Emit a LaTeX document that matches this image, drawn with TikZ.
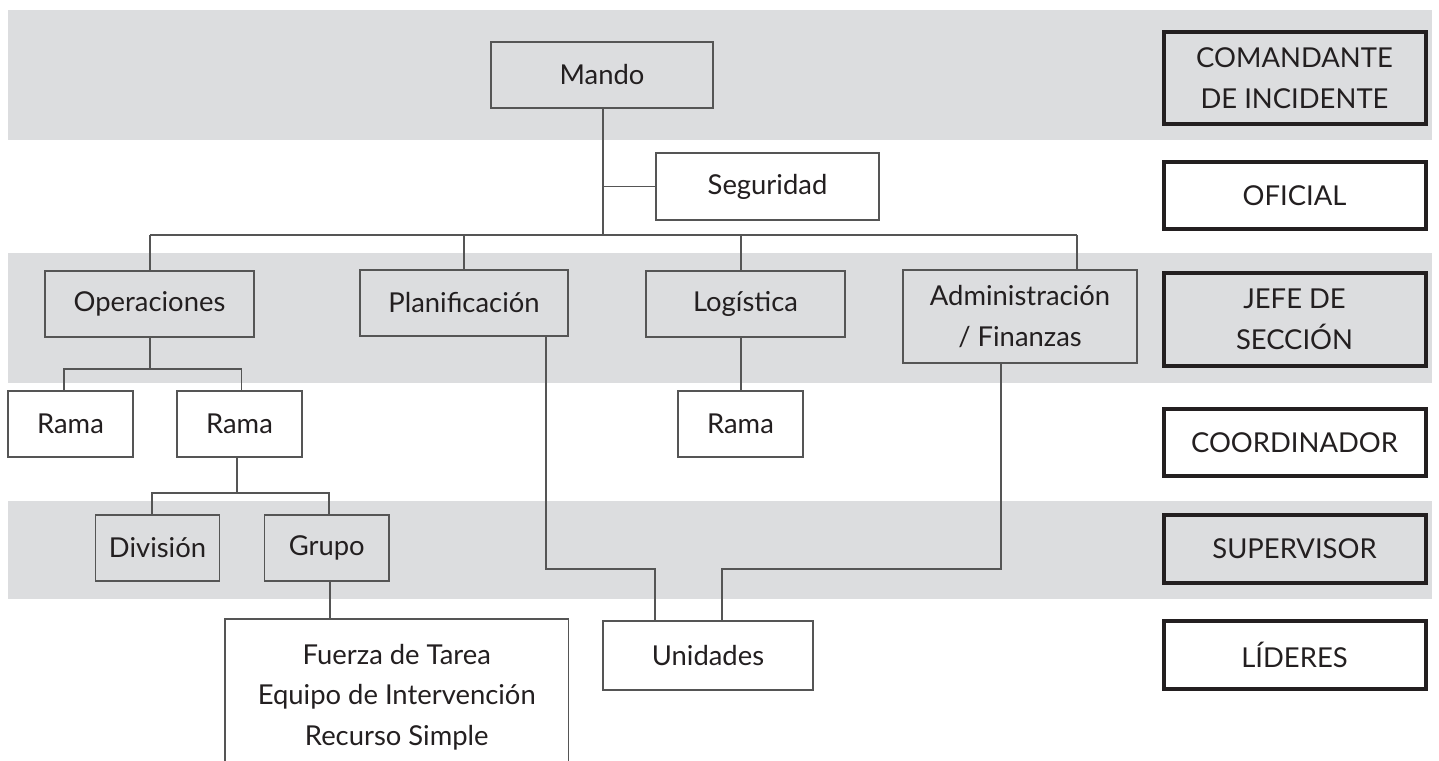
\documentclass[tikz,border=0pt]{standalone}
\usepackage{fontspec}
\setmainfont{Lato}
\definecolor{band}{HTML}{DCDDDF}
\definecolor{ink}{HTML}{231F20}
\definecolor{lin}{HTML}{555555}
\begin{document}
\begin{tikzpicture}[x=0.5pt,y=-0.5pt,
  every node/.style={font=\fontsize{13.7}{20.25}\selectfont, text=ink},
  box/.style={draw=lin, line width=0.75pt, inner sep=0pt, align=center},
  wbox/.style={box, fill=white},
  lvl/.style={draw=ink, line width=2pt, inner sep=0pt, align=center, minimum width=131pt},
  conn/.style={draw=lin, line width=0.6pt}]
\useasboundingbox (0,0) rectangle (1439,760);
% bands
\fill[band] (8,10) rectangle (1432,140);
\fill[band] (8,253) rectangle (1432,383);
\fill[band] (8,501) rectangle (1432,599);
% org nodes
\node[box, minimum width=111pt, minimum height=33pt] (mando) at (602,75) {Mando};
\node[wbox, minimum width=111.5pt, minimum height=33.5pt] (seg) at (767.5,186.5) {Seguridad};
\node[box, minimum width=104.5pt, minimum height=33pt] (oper) at (149.5,304) {Operaciones};
\node[box, minimum width=104pt, minimum height=33pt] (plan) at (464,303) {Planificación};
\node[box, minimum width=99.5pt, minimum height=33pt] (log) at (745.5,304) {Logística};
\node[box, minimum width=117pt, minimum height=46.5pt] (adm) at (1020,316.5) {Administración\\/ Finanzas};
\node[wbox, minimum width=62.5pt, minimum height=33pt] (rama1) at (70.5,424) {Rama};
\node[wbox, minimum width=62.5pt, minimum height=33pt] (rama2) at (239.5,424) {Rama};
\node[wbox, minimum width=62.5pt, minimum height=33pt] (rama3) at (740.5,424) {Rama};
\node[box, minimum width=62pt, minimum height=33pt] (div) at (157.5,548) {División};
\node[box, minimum width=62.25pt, minimum height=33pt] (grupo) at (326.75,548) {Grupo};
\node[inner sep=0pt, minimum width=171.25pt, minimum height=73pt] (fuerza) at (396.75,692.5) {};
\fill[white] (fuerza.north west) rectangle (fuerza.south east);
\node[inner sep=0pt, align=center] (ftext) at (396.75,697) {Fuerza de Tarea\\Equipo de Intervención\\Recurso Simple};
\draw[draw=lin, line width=0.75pt] (fuerza.south west) -- (fuerza.north west) -- (fuerza.north east) -- (fuerza.south east);
\node[wbox, minimum width=105pt, minimum height=34.5pt] (unid) at (708,655.5) {Unidades};
% level boxes
\node[lvl, fill=band, minimum height=46pt] (l1) at (1294.5,78) {COMANDANTE\\DE INCIDENTE};
\node[lvl, fill=white, minimum height=33.5pt] (l2) at (1294.5,195.5) {OFICIAL};
\node[lvl, fill=band, minimum height=46.5pt] (l3) at (1294.5,319.5) {JEFE DE\\SECCIÓN};
\node[lvl, fill=white, minimum height=33.5pt] (l4) at (1294.5,442.5) {COORDINADOR};
\node[lvl, fill=band, minimum height=34pt] (l5) at (1294.5,549) {SUPERVISOR};
\node[lvl, fill=white, minimum height=34pt] (l6) at (1294.5,655) {LÍDERES};
% junction coordinates
\coordinate (bus) at (603,235);
\coordinate (busL) at (150,235);
\coordinate (busR) at (1077,235);
\coordinate (xlog) at (741,0);
\coordinate (xplan) at (464,0);
\coordinate (opj) at (150,369);
\coordinate (opL) at (64,369);
\coordinate (opR) at (241.5,369);
\coordinate (rj) at (237,493);
\coordinate (rL) at (152,493);
\coordinate (rR) at (329,493);
\coordinate (pj) at (546,569);
\coordinate (pk) at (655,569);
\coordinate (aj) at (1001,569);
\coordinate (ak) at (722,569);
\coordinate (gx) at (330,0);
% connectors
\draw[conn] (mando.south -| bus) -- (bus);
\draw[conn] (bus |- seg.west) -- (seg.west);
\draw[conn] (busL) -- (busR);
\draw[conn] (busL) -- (busL |- oper.north);
\draw[conn] (xplan |- busL) -- (xplan |- plan.north);
\draw[conn] (xlog |- busL) -- (xlog |- log.north);
\draw[conn] (busR) -- (busR |- adm.north);
\draw[conn] (opj |- oper.south) -- (opj);
\draw[conn] (opL |- rama1.north) -- (opL) -- (opR) -- (opR |- rama2.north);
\draw[conn] (rj |- rama2.south) -- (rj);
\draw[conn] (rL |- div.north) -- (rL) -- (rR) -- (rR |- grupo.north);
\draw[conn] (gx |- grupo.south) -- (gx |- fuerza.north);
\draw[conn] (xlog |- log.south) -- (xlog |- rama3.north);
\draw[conn] (pj |- plan.south) -- (pj) -- (pk) -- (pk |- unid.north);
\draw[conn] (aj |- adm.south) -- (aj) -- (ak) -- (ak |- unid.north);
\end{tikzpicture}
\end{document}
